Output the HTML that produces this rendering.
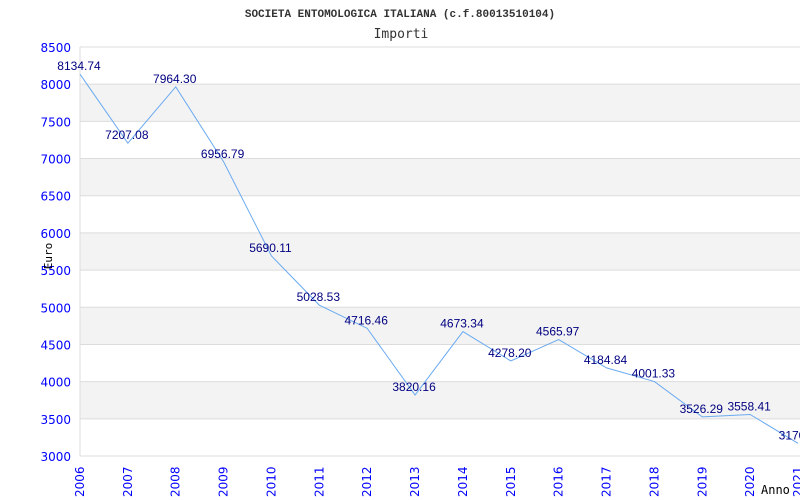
<!DOCTYPE html>
<html><head><meta charset="utf-8"><style>
body{margin:0;background:#fff;width:800px;height:500px;overflow:hidden}
svg{display:block}
</style></head><body>
<svg id="chart" width="800" height="500" xmlns="http://www.w3.org/2000/svg">
<text x="400" y="17" text-anchor="middle" font-family="Liberation Mono, monospace" font-size="11" font-weight="bold" fill="#333">SOCIETA ENTOMOLOGICA ITALIANA (c.f.80013510104)</text>
<text x="401" y="38" text-anchor="middle" font-family="DejaVu Sans Mono, monospace" font-size="13" fill="#333">Importi</text>
<g id="bands"></g><g id="grid"></g><g id="yticks"></g><g id="xticks"></g>
<text transform="translate(52,256) rotate(-90)" text-anchor="middle" font-family="DejaVu Sans Mono, monospace" font-size="11" fill="#000">Euro</text>
<text x="761" y="494" font-family="DejaVu Sans Mono, monospace" font-size="12" fill="#000">Anno</text>
<g id="series"></g><g id="labels"></g>
</svg>
<script>
const years=[2006,2007,2008,2009,2010,2011,2012,2013,2014,2015,2016,2017,2018,2019,2020,2021];
const values=[8134.74,7207.08,7964.30,6956.79,5690.11,5028.53,4716.46,3820.16,4673.34,4278.20,4565.97,4184.84,4001.33,3526.29,3558.41,3170.60];
const valueLabels=["8134.74","7207.08","7964.30","6956.79","5690.11","5028.53","4716.46","3820.16","4673.34","4278.20","4565.97","4184.84","4001.33","3526.29","3558.41","3170.6"];
const yTicks=[3000,3500,4000,4500,5000,5500,6000,6500,7000,7500,8000,8500];
const X0=80,X1=798,Y0=456,Y1=47;
const x=i=>X0+(X1-X0)*i/(years.length-1);
const y=v=>Y0-(v-3000)/(8500-3000)*(Y0-Y1);
const NS="http://www.w3.org/2000/svg";
function mk(parent,tag,attrs){const e=document.createElementNS(NS,tag);for(const k in attrs)e.setAttribute(k,attrs[k]);document.getElementById(parent).appendChild(e);return e;}
for(let j=0;j<yTicks.length-1;j++){
  const a=yTicks[j],b=yTicks[j+1];
  if(j%2===1){const r=mk('bands','rect',{x:X0,y:y(b),width:X1-X0+2,height:y(a)-y(b),fill:'#f3f3f3'});
  
  }
}
yTicks.forEach(t=>{
  const l=mk('grid','line',{x1:X0,x2:800,y1:y(t),y2:y(t),stroke:'#dcdcdc','stroke-width':1});
  
  
  const tx=mk('yticks','text',{x:71,y:y(t)+5,'text-anchor':'end','font-family':'DejaVu Sans, sans-serif','font-size':'12',fill:'#0000ff'});
  tx.textContent=t;
  
  
});
const ax=mk('grid','line',{x1:X0,x2:X0,y1:Y1,y2:Y0,stroke:'#dcdcdc'});


years.forEach((yr,i)=>{
  const tx=mk('xticks','text',{transform:`translate(${x(i)+4},497) rotate(-90)`,'font-family':'DejaVu Sans, sans-serif','font-size':'12',fill:'#0000ff'});
  tx.textContent=yr;
  
  
});
const p=mk('series','polyline',{points:values.map((v,i)=>x(i)+','+y(v)).join(' '),fill:'none',stroke:'#6aaaf0','stroke-width':1});


values.forEach((v,i)=>{
  const tx=mk('labels','text',{x:x(i)-1,y:y(v)-4,'text-anchor':'middle','font-family':'Liberation Sans, sans-serif','font-size':'12',fill:'#000080'});
  tx.textContent=valueLabels[i];
  
  
});
</script>
</body></html>
